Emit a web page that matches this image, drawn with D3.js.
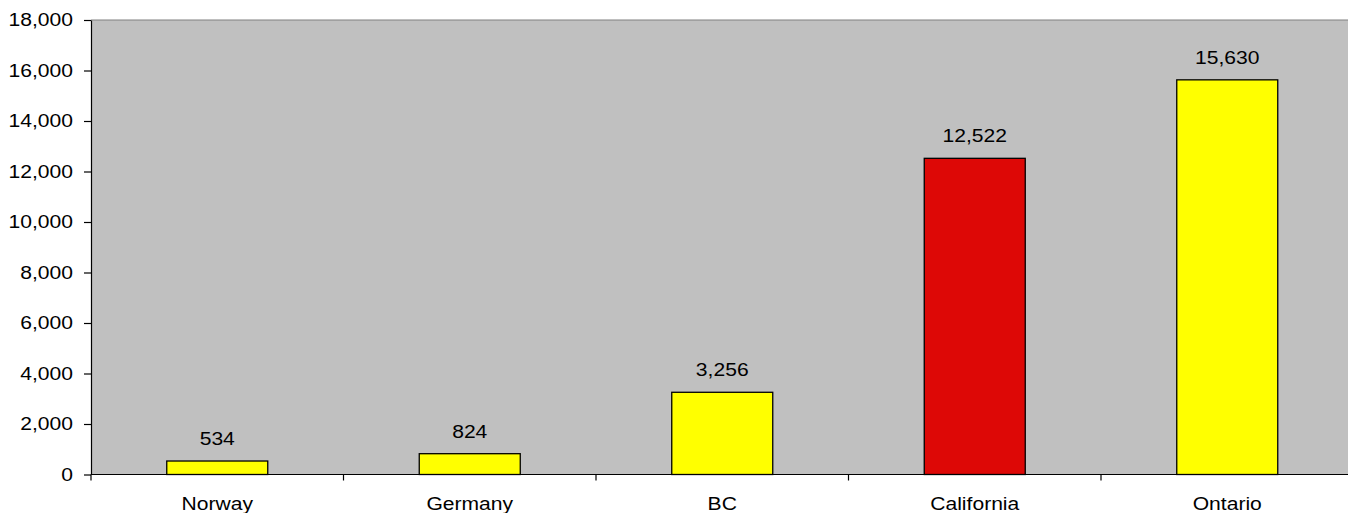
<!DOCTYPE html>
<html>
<head>
<meta charset="utf-8">
<script src="https://cdn.jsdelivr.net/npm/d3@7"></script>
<style>
  html, body { margin: 0; padding: 0; background: #fff; overflow: hidden; }
  svg { display: block; }
  text { font-family: "Liberation Sans", Arial, sans-serif; fill: #000; }
</style>
</head>
<body>
<svg id="chart" width="1348" height="513"></svg>
<script>
// Chart data
const categories = ["Norway", "Germany", "BC", "California", "Ontario"];
const values = [534, 824, 3256, 12522, 15630];
const barColors = ["#FFFF00", "#FFFF00", "#FFFF00", "#DD0806", "#FFFF00"];
const yTicks = [0, 2000, 4000, 6000, 8000, 10000, 12000, 14000, 16000, 18000];

const svg = d3.select("#chart");
const plotLeft = 91, plotTop = 20, plotBottom = 474.5, plotRight = 1353.5;
const fontSize = 18.5;
const stretch = 1.14; // wide glyph rendering

const x = d3.scaleBand().domain(categories).range([plotLeft, plotRight]).paddingInner(0.6).paddingOuter(0.3);
const y = d3.scaleLinear().domain([0, 18000]).range([plotBottom, plotTop]);
const fmt = d3.format(",");

// Plot area background
svg.append("rect")
  .attr("x", plotLeft).attr("y", plotTop)
  .attr("width", plotRight - plotLeft).attr("height", plotBottom - plotTop)
  .attr("fill", "#C0C0C0");
svg.append("line")
  .attr("x1", plotLeft).attr("x2", plotRight).attr("y1", plotTop).attr("y2", plotTop)
  .attr("stroke", "#808080").attr("stroke-width", 1.2);

// Bars
svg.append("g").selectAll("rect")
  .data(values)
  .join("rect")
  .attr("x", (d, i) => x(categories[i]))
  .attr("y", d => y(d))
  .attr("width", x.bandwidth())
  .attr("height", d => y(0) - y(d))
  .attr("fill", (d, i) => barColors[i])
  .attr("stroke", "#000")
  .attr("stroke-width", 1.3);

// Value labels
svg.append("g").selectAll("text")
  .data(values)
  .join("text")
  .attr("transform", (d, i) => `translate(${x(categories[i]) + x.bandwidth() / 2},${y(d) - 16}) scale(${stretch},1)`)
  .attr("text-anchor", "middle")
  .attr("font-size", fontSize)
  .text(d => fmt(d));

// Y axis
const yAxis = svg.append("g")
  .attr("transform", `translate(${plotLeft},0)`)
  .call(d3.axisLeft(y).tickValues(yTicks).tickFormat(fmt).tickSize(7).tickPadding(11).tickSizeOuter(0));
yAxis.select(".domain").attr("stroke", "#000").attr("stroke-width", 1.2);
yAxis.selectAll(".tick line").attr("stroke", "#000").attr("stroke-width", 1.2);
yAxis.selectAll(".tick text")
  .attr("font-size", fontSize)
  .attr("font-family", "Liberation Sans, Arial, sans-serif")
  .attr("fill", "#000")
  .attr("transform", `scale(${stretch},1)`)
  .attr("x", -18 / stretch);

// X axis: separator ticks at category boundaries
const boundaries = d3.range(categories.length + 1).map(i => plotLeft + i * x.step());
const xAxis = svg.append("g");
xAxis.append("line")
  .attr("x1", plotLeft).attr("x2", plotRight).attr("y1", plotBottom).attr("y2", plotBottom)
  .attr("stroke", "#000").attr("stroke-width", 1.2);
xAxis.selectAll("line.sep")
  .data(boundaries)
  .join("line")
  .attr("class", "sep")
  .attr("x1", d => d).attr("x2", d => d)
  .attr("y1", plotBottom).attr("y2", plotBottom + 6)
  .attr("stroke", "#000").attr("stroke-width", 1.2);
xAxis.selectAll("text")
  .data(categories)
  .join("text")
  .attr("transform", d => `translate(${x(d) + x.bandwidth() / 2},${plotBottom + 35.5}) scale(${stretch},1)`)
  .attr("text-anchor", "middle")
  .attr("font-size", fontSize)
  .text(d => d);
</script>
</body>
</html>
